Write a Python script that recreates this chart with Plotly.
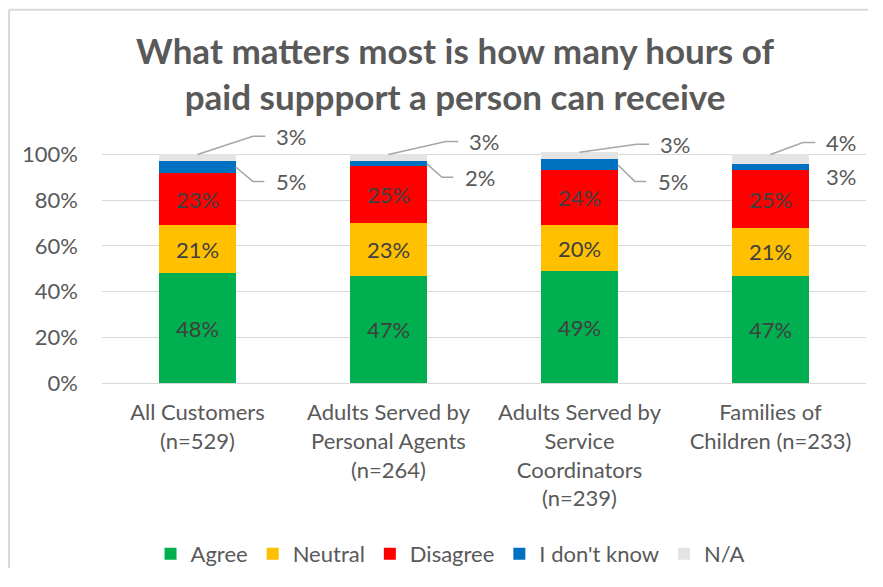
import plotly.graph_objects as go

categories = [
    "All Customers<br>(n=529)",
    "Adults Served by<br>Personal Agents<br>(n=264)",
    "Adults Served by<br>Service<br>Coordinators<br>(n=239)",
    "Families of<br>Children (n=233)",
]
agree = [48, 47, 49, 47]
neutral = [21, 23, 20, 21]
disagree = [23, 25, 24, 25]
dont_know = [5, 2, 5, 3]
na = [3, 3, 3, 4]
y_ticks = [0, 20, 40, 60, 80, 100]

series = [
    ("Agree", agree, "#00B050"),
    ("Neutral", neutral, "#FFC000"),
    ("Disagree", disagree, "#FF0000"),
    ("I don't know", dont_know, "#0070C0"),
    ("N/A", na, "#E4E4E4"),
]

# outside label placement (x offset from bar centre, y in %)
na_lx = [0.40, 0.41, 0.41, 0.28]
na_ly = [107.9, 105.7, 104.4, 105.2]
idk_lx = [0.40, 0.39, 0.40, 0.28]
idk_ly = [88.2, 90.0, 88.2, 90.4]
idk_leader = [True, True, True, False]

FONT = "Lato"
GREY = "#595959"
FS = 22
W, H = 860, 560  # kept small so the page (8px body margin) does not scroll
xs = list(range(len(categories)))

fig = go.Figure()
for name, vals, color in series:
    inside = name in ("Agree", "Neutral", "Disagree")
    fig.add_trace(go.Bar(
        x=xs, y=vals, name=name, width=0.4,
        marker=dict(color=color, line=dict(width=0)),
        text=[f"{v}%" for v in vals] if inside else None,
        textposition="inside" if inside else "none",
        insidetextanchor="middle",
        textfont=dict(family=FONT, size=FS, color="#404040"),
        hoverinfo="skip",
    ))

line_style = dict(color="#A6A6A6", width=1.5)
for i in xs:
    total = agree[i] + neutral[i] + disagree[i] + dont_know[i] + na[i]
    base_idk = agree[i] + neutral[i] + disagree[i]
    # N/A leader
    fig.add_trace(go.Scatter(
        x=[i, i + na_lx[i] - 0.11, i + na_lx[i] - 0.045],
        y=[total, na_ly[i], na_ly[i]],
        mode="lines", line=line_style, showlegend=False,
        hoverinfo="skip",
    ))
    fig.add_annotation(x=i + na_lx[i], y=na_ly[i], text=f"{na[i]}%",
                       xanchor="left", showarrow=False,
                       font=dict(family=FONT, size=FS, color=GREY))
    if idk_leader[i]:
        fig.add_trace(go.Scatter(
            x=[i + 0.2, i + idk_lx[i] - 0.11, i + idk_lx[i] - 0.05],
            y=[base_idk + dont_know[i] / 2, idk_ly[i], idk_ly[i]],
            mode="lines", line=line_style, showlegend=False,
            hoverinfo="skip",
        ))
    fig.add_annotation(x=i + idk_lx[i], y=idk_ly[i], text=f"{dont_know[i]}%",
                       xanchor="left", showarrow=False,
                       font=dict(family=FONT, size=FS, color=GREY))

border = dict(color="#D9D9D9", width=2)
fig.update_layout(
    barmode="stack",
    width=W, height=H,
    margin=dict(l=94, r=2, t=118.5, b=185),
    paper_bgcolor="white", plot_bgcolor="white",
    font=dict(family=FONT, size=FS, color=GREY),
    title=dict(
        text="What matters most is how many hours of<br>paid suppport a person can receive",
        font=dict(family=FONT, size=35, color=GREY, weight="bold"),
        x=0.5198, xanchor="center", xref="container",
        y=0.90, yanchor="top", yref="container", automargin=False,
    ),
    legend=dict(
        orientation="h", x=0.514, xanchor="center", xref="container",
        y=0.025, yanchor="middle", yref="container",
        font=dict(family=FONT, size=FS, color=GREY),
        traceorder="normal", itemwidth=30,
    ),
    xaxis=dict(
        tickvals=xs, ticktext=categories, range=[-0.5, 3.5],
        showgrid=False, showline=True, linecolor="#D9D9D9", linewidth=1,
        ticks="", ticklabelstandoff=10, automargin=False,
        tickfont=dict(family=FONT, size=FS, color=GREY),
    ),
    yaxis=dict(
        range=[0, 112], tickvals=y_ticks, ticktext=[f"{t}%" for t in y_ticks],
        showgrid=True, gridcolor="#D9D9D9", gridwidth=1, zeroline=False,
        ticks="", ticklabelstandoff=23, automargin=False,
        tickfont=dict(family=FONT, size=FS, color=GREY),
    ),
    # chart border: only its left and top edges fall inside the picture
    shapes=[
        dict(type="line", xref="paper", yref="paper",
             x0=-0.1217, x1=-0.1217, y0=-0.8, y1=1.458, line=border),
        dict(type="line", xref="paper", yref="paper",
             x0=-0.1217, x1=1.05, y0=1.458, y1=1.458, line=border),
    ],
)

fig.write_html("out.html")
